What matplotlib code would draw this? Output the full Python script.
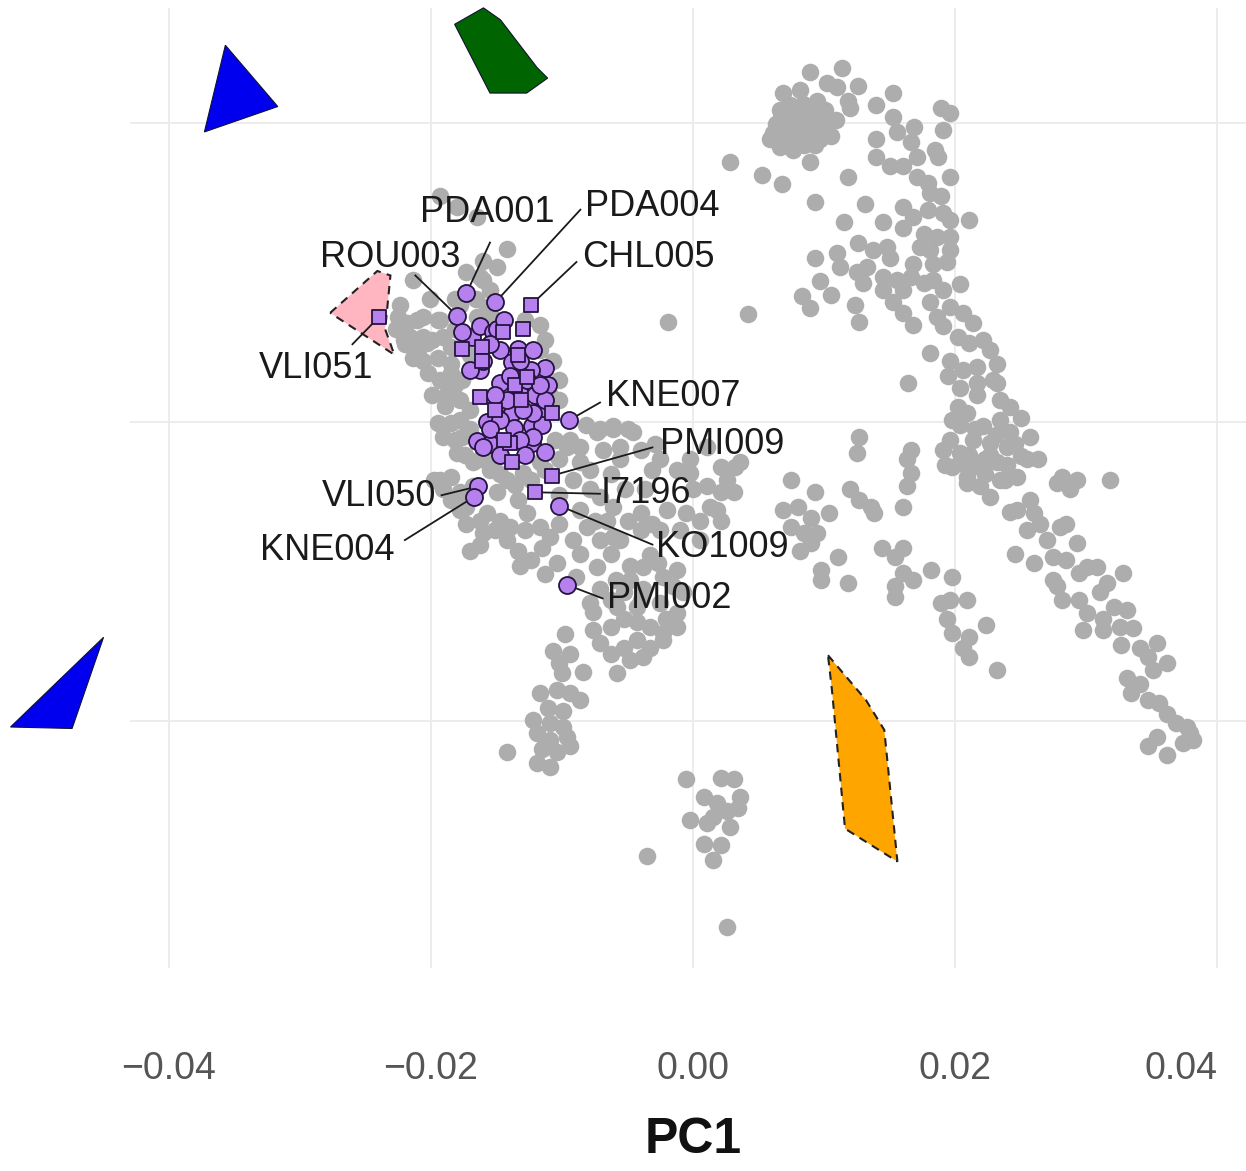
import numpy as np
import matplotlib
matplotlib.use("Agg")
import matplotlib.pyplot as plt
from matplotlib.patches import Polygon

plt.rcParams['font.family'] = ['Liberation Sans', 'DejaVu Sans']

# ---------------- data (PC values in units of 1e-3) ----------------
grey_pc1 = [
 8.9,11.4,6.9,8.2,10.2,11.0,12.6,11.8,12.0,6.1,6.6,7.4,8.4,9.2,9.9,10.5,7.9,8.9,7.2,9.5,5.9,8.7,9.7,7.6,
 8.2,9.3,7.4,10.1,8.5,6.6,
 8.9,5.3,6.8,2.8,9.3,11.8,13.1,11.5,14.0,15.3,15.3,15.6,14.0,14.0,15.0,16.9,16.6,17.1,16.0,18.9,19.6,19.1,
 18.5,18.7,19.6,17.1,17.9,18.1,18.9,16.0,16.8,17.9,19.1,19.6,21.1,14.5,16.0,17.6,18.6,19.6,17.3,18.1,19.6,
 19.4,12.6,13.7,14.8,15.0,16.8,18.3,9.3,11.0,11.2,12.5,13.3,13.0,14.5,14.5,15.6,16.0,16.6,17.6,18.3,19.1,
 20.4,9.7,10.5,8.3,8.9,4.2,12.4,12.7,15.3,16.0,16.8,18.1,18.6,19.1,19.6,20.6,21.4,20.2,21.1,22.1,22.7,18.1,
 19.6,20.6,21.7,23.2,19.5,20.4,21.7,22.9,16.4,
 23.2,21.7,23.4,24.2,25.0,20.2,
 19.1,19.8,20.9,22.1,23.4,24.2,25.7,26.3,25.0,24.0,22.7,21.4,20.4,19.8,20.9,21.9,23.2,24.7,23.4,21.9,22.7,
 20.9,19.6,25.5,21.1,22.7,24.0,22.3,
 16.6,16.3,16.6,16.3,16.0,28.2,29.3,28.8,27.8,31.8,24.2,24.7,25.7,26.0,26.5,25.5,27.0,28.0,28.5,29.3,27.5,
 28.5,30.1,30.8,29.5,27.5,27.8,24.6,26.0,16.0,16.0,16.8,18.2,19.8,18.9,19.6,20.9,19.4,19.8,21.1,20.6,21.1,
 22.4,23.2,28.2,29.5,30.1,31.1,31.6,32.8,32.1,31.3,33.1,32.6,33.6,29.8,31.3,32.7,34.1,35.4,34.7,36.2,35.1,
 33.1,34.1,33.4,34.7,35.6,36.2,36.9,37.7,38.2,37.4,37.9,34.7,35.4,36.2,
 12.7,12.5,12.0,12.7,13.6,13.8,7.5,9.3,6.9,8.0,9.0,10.4,7.5,8.5,9.5,8.2,9.0,3.2,2.1,1.8,2.1,11.1,9.8,9.8,
 11.8,14.4,15.4,15.4,15.4,
 -19.5,-18.5,-19.1,-7.1,-6.1,-4.6,-5.6,-6.9,-0.2,1.1,-8.6,-9.2,-7.9,-7.1,-6.1,-6.6,-5.0,-4.0,-3.1,-2.0,
 -0.5,0.5,1.3,0.0,1.1,2.6,3.1,2.1,3.6,-19.8,-19.1,-18.5,-17.3,-15.7,-14.7,-14.0,-12.7,-11.7,-10.9,-10.2,
 -9.2,-8.1,-8.6,-7.1,-6.1,-7.3,-6.3,-10.4,-11.5,-17.3,-17.0,-16.0,-14.2,-13.4,-1.2,-0.2,-3.1,
 -8.9,-7.9,-7.6,-4.8,-3.8,-2.7,-2.3,-1.2,-1.5,-0.8,-1.2,-1.2,-2.3,-3.3,-4.3,-5.3,-6.3,-7.6,-7.1,-6.3,-5.3,
 -4.3,-3.3,-2.3,-4.8,-5.8,-3.8,-5.3,-3.8,-2.5,-4.3,-5.8,-9.8,-10.7,-9.4,-10.2,-10.0,-8.4,-11.7,-10.4,-9.4,
 -8.6,-11.1,-9.9,-12.2,-10.9,-9.9,-11.9,-10.9,-9.6,-9.4,-11.5,-10.4,-11.9,-10.9,-14.2,
 -0.5,2.1,3.1,3.6,0.8,1.8,-0.2,1.1,2.8,3.4,0.8,2.1,1.5,2.6,1.5,-3.5,2.6,
 -19.3,-18.0,-16.5,-14.2,-16.0,-15.0,-16.0,-17.3,-21.8,-21.1,-22.1,-20.6,-19.5,-19.1,-20.6,-19.5,-18.5,
 -18.5,-17.6,-21.4,-16.3,-20.6,-19.3,-21.6,-20.3,-21.4,-18.5,-18.8,-17.8,-17.6,-18.0,-16.8,-15.5,-14.2,
 -13.0,-11.7,-9.6,-8.6,-7.3,-6.1,-5.0,-16.8,-15.0,-13.4,-19.3,-17.8,-16.5,-15.7,-22.4,-22.7,-20.1,-18.2,
 -1.9,
 # denser grey mass around the ancient cluster
 -22.5,-22.0,-21.0,-19.9,-20.2,-19.3,-18.2,-19.9,-18.9,-17.0,-17.8,-17.0,-18.2,-17.4,-16.3,-15.1,-14.7,
 -13.6,-12.4,-11.3,-10.2,-10.5,-9.4,-8.2,-10.2,-10.9,-11.3,-11.7,-15.5,-16.6,-17.8,-17.0,-18.2,-15.5,-14.4,
 -12.8,-11.7,-10.7,-10.2,-16.3,-15.1,-12.8,-12.4,-11.3,-13.2,-16.3,-17.8,-18.5,-5.6,-4.0,-2.9,-2.5,-3.7,
 -5.2,-6.3,-7.9,-8.6,-10.2,-7.5,-5.6,-4.0,-2.5,-1.0,0.5,-3.3,-4.8,-5.9,-7.1,-4.0,-2.1,-6.3,
 6.6,6.3,8.2,9.3,10.1,10.9,7.0,8.5,
 # denser right blob
 20.4,21.5,23.1,24.6,20.8,23.8,19.2,22.3,
]
grey_pc2 = [
 23.4,23.7,22.0,22.2,22.7,22.4,22.5,21.5,21.0,19.3,18.4,20.4,21.3,20.7,19.7,19.1,18.9,19.3,19.5,21.5,18.9,20.2,18.9,18.2,
 19.9,19.9,21.2,20.9,18.5,20.2,
 17.4,16.5,15.9,17.4,14.7,16.4,14.6,13.4,21.2,22.0,20.4,19.4,18.9,17.7,17.1,19.7,18.7,17.7,17.1,21.0,20.7,19.5,
 18.2,17.7,16.4,16.4,16.0,15.3,15.1,14.4,13.7,14.2,14.0,13.5,13.5,13.4,13.0,12.6,12.4,12.4,11.7,11.5,11.5,
 10.7,12.0,11.5,11.7,11.0,10.6,10.6,11.0,11.3,10.4,10.0,10.4,9.3,9.7,8.8,9.5,8.8,9.7,9.3,9.5,8.8,
 9.2,9.4,8.5,8.4,7.6,7.2,7.8,6.7,8.0,7.3,6.5,8.0,7.0,6.4,7.7,7.3,6.6,5.7,5.3,5.5,4.8,4.6,
 4.1,3.5,3.7,3.9,3.1,2.3,2.6,2.8,2.6,
 2.6,1.8,1.5,1.0,0.3,1.0,
 -1.9,0.1,0.6,-0.3,0.1,-0.7,-1.0,-2.5,-2.3,-1.7,-1.4,-1.2,-2.1,-3.0,-3.7,-3.0,-2.7,-3.7,-3.9,-4.3,-5.0,
 -4.1,-1.2,-2.5,-2.2,-2.2,-2.9,-3.5,
 -1.9,-2.5,-3.4,-4.3,-5.7,-3.7,-3.9,-4.5,-4.1,-3.9,-6.0,-5.9,-5.2,-6.1,-6.8,-7.2,-7.9,-7.0,-6.8,-8.1,-9.0,
 -9.2,-9.7,-9.7,-10.1,-10.6,-11.0,-8.8,-9.4,-8.4,-10.1,-10.6,-9.9,-10.4,-12.1,-11.9,-11.9,-13.2,-14.1,-14.4,-15.1,-15.7,
 -13.6,-16.6,-11.9,-11.9,-12.8,-11.4,-10.8,-10.1,-12.4,-13.2,-12.6,-13.7,-13.8,-13.9,-13.9,-14.9,-15.1,-14.8,-15.7,-16.1,-16.6,
 -17.1,-17.5,-18.1,-18.6,-18.8,-19.5,-20.1,-20.4,-21.3,-21.5,-20.8,-21.7,-21.1,-22.3,
 -1.0,-2.1,-4.5,-5.2,-5.7,-6.1,-3.9,-4.7,-5.9,-5.7,-6.4,-6.1,-7.0,-7.4,-7.4,-8.6,-8.1,-3.0,-4.7,-5.9,-6.6,-9.0,-9.9,-10.6,
 -10.8,-8.4,-9.0,-11.0,-11.7,
 -0.1,-0.1,-1.0,-0.5,-0.5,-0.7,-1.7,-1.9,-2.5,-1.7,-2.7,-3.9,-4.5,-5.0,-5.7,-6.6,-6.6,-6.1,-6.8,-5.9,
 -6.1,-6.6,-5.7,-4.5,-4.3,-3.9,-4.7,-3.0,-2.7,-3.9,-4.5,-3.7,-5.7,-6.1,-6.6,-7.0,-6.1,-7.0,-7.7,-6.8,
 -7.9,-7.0,-8.8,-7.9,-7.7,-9.7,-8.8,-9.4,-8.4,-6.8,-8.6,-7.4,-7.9,-8.6,-3.2,-3.4,-3.2,
 -10.4,-12.1,-12.7,-10.6,-9.7,-9.4,-10.4,-9.9,-11.0,-11.4,-12.8,-13.7,-14.1,-13.7,-13.4,-13.2,-13.7,-13.9,-14.8,-15.5,-15.1,
 -14.6,-15.1,-14.6,-15.9,-16.8,-15.7,-11.4,-11.2,-12.1,-12.4,-12.4,-14.2,-15.3,-15.5,-16.1,-16.8,-16.7,-18.1,-17.9,-18.1,
 -18.6,-19.1,-19.3,-19.9,-20.1,-20.4,-20.8,-21.3,-21.1,-21.7,-21.9,-22.1,-22.8,-23.1,-22.1,
 -23.9,-23.8,-23.9,-25.1,-25.1,-25.5,-26.6,-26.8,-27.1,-25.8,-28.2,-28.3,-29.3,-26.0,-26.4,-29.0,-33.8,
 15.1,14.4,13.7,11.6,10.8,10.4,9.5,10.0,6.6,6.8,5.5,5.7,6.8,5.7,4.1,4.3,3.9,
 5.0,2.8,9.5,9.7,7.0,6.8,5.7,5.3,4.3,3.3,1.9,1.5,-1.0,-2.1,-2.7,-3.2,-3.9,
 -3.4,-2.7,-1.7,-1.7,-0.7,-0.3,-0.5,-4.3,-4.7,-5.2,-3.9,-4.7,7.0,7.7,7.8,6.2,8.2,8.2,
 6.7,
 7.0,5.2,4.8,5.5,3.3,2.8,2.5,1.8,1.1,0.8,0.1,-0.5,-1.2,-2.2,-2.5,-2.5,-3.5,
 -4.2,-3.9,-3.2,-2.5,-1.2,-1.2,-0.2,1.5,1.8,5.5,6.5,8.8,8.2,7.8,4.5,6.2,7.2,6.8,
 6.8,4.8,4.1,2.8,-6.6,-7.2,-7.2,-9.2,-10.2,-9.6,-8.2,-5.9,-5.2,-2.5,-1.9,-1.5,-2.5,-4.5,
 -4.5,-3.5,-3.2,-5.9,-4.9,-6.6,-7.9,-7.2,-7.2,-7.2,-7.9,-8.9,-9.6,-10.6,-11.2,-11.9,-13.2,-11.9,
 20.9,19.9,19.3,18.5,20.2,20.2,18.9,20.9,
 -0.2,-0.5,-0.9,-1.5,-2.9,-3.9,-2.9,-2.5,
]

# ancient individuals (purple): circles and squares
circ_pc1 = [-17.3,-15.1,-18.0,-9.5,-10.2,-9.6,-16.4,-16.7,
            -16.9,-16.3,-15.3,-14.7,-13.4,-12.2,-13.8,-11.3,-11.1,-14.7,-12.4,-13.0,-14.0,-13.8,-11.8,
            -12.3,-11.5,-13.7,-15.7,-16.5,-15.5,-16.0,-12.3,-11.3,-17.6,-16.3,-16.0,-13.2,-14.2,-15.0,
            -12.2,-13.0,-12.2,-12.7,
            -14.4,-15.5,-13.2,-12.1,-15.1,-14.7,-13.2,-15.5,-11.3,-14.0,-17.0,-12.8,-14.7,-11.7]
circ_pc2 = [8.6,8.0,7.1,0.1,-5.6,-10.9,-4.3,-5.0,
            5.7,6.4,6.0,4.8,4.9,4.8,4.0,3.6,2.5,2.6,3.5,3.0,1.0,0.6,0.7,
            -0.3,-0.2,-0.4,0.0,-1.3,-1.5,-1.7,-1.4,-2.0,6.0,3.5,4.1,1.9,1.5,6.2,
            0.6,0.8,-1.0,2.8,
            6.8,5.2,4.1,1.8,1.8,0.1,-1.2,-0.5,1.5,3.1,3.5,-2.2,-2.2,2.5]
sq_pc1 = [-12.4,-24.0,-10.8,-12.1,
          -13.0,-17.6,-16.1,-16.1,-14.5,-13.6,-16.3,-13.1,-10.8,-14.0,-13.8,-12.7,
          -15.1,-13.4,-14.4]
sq_pc2 = [7.8,7.0,-3.6,-4.7,
          6.2,4.9,5.0,4.1,6.0,2.5,1.7,1.5,0.6,-1.4,-2.7,3.0,
          0.8,4.5,-1.2]

label_names = ["PDA001","PDA004","ROU003","CHL005","VLI051","KNE007",
               "PMI009","I7196","KO1009","PMI002","VLI050","KNE004"]
label_pc1 = [-17.3,-15.1,-18.0,-12.4,-24.0,-9.5,-10.8,-12.1,-10.2,-9.6,-16.4,-16.7]
label_pc2 = [8.6,8.0,7.1,7.8,7.0,0.1,-3.6,-4.7,-5.6,-10.9,-4.3,-5.0]
label_text_pc1 = [-15.7,-3.1,-23.1,-3.4,-28.8,-1.5,2.2,-3.6,2.2,-1.8,-24.0,-27.9]
label_text_pc2 = [14.0,14.4,11.0,11.0,3.6,1.7,-1.5,-4.8,-8.4,-11.8,-5.0,-8.6]
leader_pc1 = [-15.5,-8.6,-21.2,-8.9,-26.0,-7.1,-3.1,-7.1,-3.1,-6.9,-19.2,-22.0]
leader_pc2 = [12.0,14.2,9.8,10.7,5.2,1.3,-1.7,-4.8,-8.2,-11.8,-4.9,-7.9]

yellow_pc1 = [-15.0]
yellow_pc2 = [-0.2]

# group hull polygons (PC1, PC2 in 1e-3)
hull_blue1_pc1 = [-35.7,-31.7,-37.3]
hull_blue1_pc2 = [25.2,21.1,19.4]
hull_blue2_pc1 = [-45.0,-52.1,-47.4]
hull_blue2_pc2 = [-14.4,-20.4,-20.5]
hull_green_pc1 = [-18.2,-16.0,-14.7,-11.9,-11.1,-12.7,-15.5]
hull_green_pc2 = [26.6,27.7,26.9,23.7,23.0,22.0,22.0]
hull_pink_pc1 = [-27.7,-24.1,-23.1,-23.5,-22.8]
hull_pink_pc2 = [7.3,10.1,9.8,6.2,4.5]
hull_orange_pc1 = [10.3,13.2,14.6,15.6,11.6,10.6]
hull_orange_pc2 = [-15.6,-18.6,-20.6,-29.4,-27.2,-17.9]

x_ticks = [-0.04, -0.02, 0.00, 0.02, 0.04]
x_tick_labels = ["\u22120.04", "\u22120.02", "0.00", "0.02", "0.04"]
y_grid = [-0.02, 0.00, 0.02]

S = 1e-3

# ---------------- figure ----------------
W, H = 1246, 1171
fig = plt.figure(figsize=(W/100, H/100), dpi=100)
ax = fig.add_axes([130/W, 1-968/H, 1116/W, 960/H])
ax.set_xlim(-0.04298, 0.04221)
ax.set_ylim(-0.03652, 0.02769)
ax.set_facecolor('white')
for s in ax.spines.values():
    s.set_visible(False)
ax.set_xticks(x_ticks)
ax.set_xticklabels(x_tick_labels)
ax.set_yticks(y_grid)
ax.set_yticklabels([])
ax.tick_params(axis='both', length=0)
ax.tick_params(axis='x', labelsize=27, labelcolor='#555555', pad=60)
ax.get_xticklabels()[-1].set_horizontalalignment('right')
ax.grid(True, color='#EBEBEB', linewidth=1.3, zorder=0)
ax.set_axisbelow(True)

def hull(xs, ys, color, dashed=False):
    pts = np.column_stack([np.array(xs)*S, np.array(ys)*S])
    if dashed:
        p = Polygon(pts, closed=True, facecolor=color, edgecolor='#222222',
                    linestyle=(0, (4, 3)), linewidth=1.5, clip_on=False, zorder=1)
    else:
        p = Polygon(pts, closed=True, facecolor=color, edgecolor='#111133',
                    linewidth=0.8, clip_on=False, zorder=1)
    ax.add_patch(p)

hull(hull_blue1_pc1, hull_blue1_pc2, '#0000EE')
hull(hull_blue2_pc1, hull_blue2_pc2, '#0000EE')
hull(hull_green_pc1, hull_green_pc2, '#006400')
hull(hull_pink_pc1, hull_pink_pc2, '#FFB6C1', dashed=True)
hull(hull_orange_pc1, hull_orange_pc2, '#FFA500', dashed=True)

ax.scatter(np.array(grey_pc1)*S, np.array(grey_pc2)*S, s=160, c='#ADADAD',
           linewidths=0, zorder=2, clip_on=False)
ax.scatter(np.array(yellow_pc1)*S, np.array(yellow_pc2)*S, s=40, marker='^',
           c='#F5E400', linewidths=0, zorder=3)

# leader lines
for i in range(len(label_names)):
    ax.plot([leader_pc1[i]*S, label_pc1[i]*S], [leader_pc2[i]*S, label_pc2[i]*S],
            color='#1a1a1a', linewidth=1.3, zorder=4)

purple = '#B680EE'
edge = '#24143F'
ax.scatter(np.array(circ_pc1)*S, np.array(circ_pc2)*S, s=150, marker='o',
           c=purple, edgecolors=edge, linewidths=1.3, zorder=5)
ax.scatter(np.array(sq_pc1)*S, np.array(sq_pc2)*S, s=115, marker='s',
           c=purple, edgecolors=edge, linewidths=1.3, zorder=5)

for i, name in enumerate(label_names):
    ax.text(label_text_pc1[i]*S, label_text_pc2[i]*S, name, fontsize=26,
            color='#1a1a1a', ha='center', va='center', zorder=6)

fig.text(693/W, 1-1140/H, 'PC1', fontsize=36, fontweight='bold',
         ha='center', va='center', color='#111111')

fig.savefig('out.png', dpi=100, facecolor='white')
